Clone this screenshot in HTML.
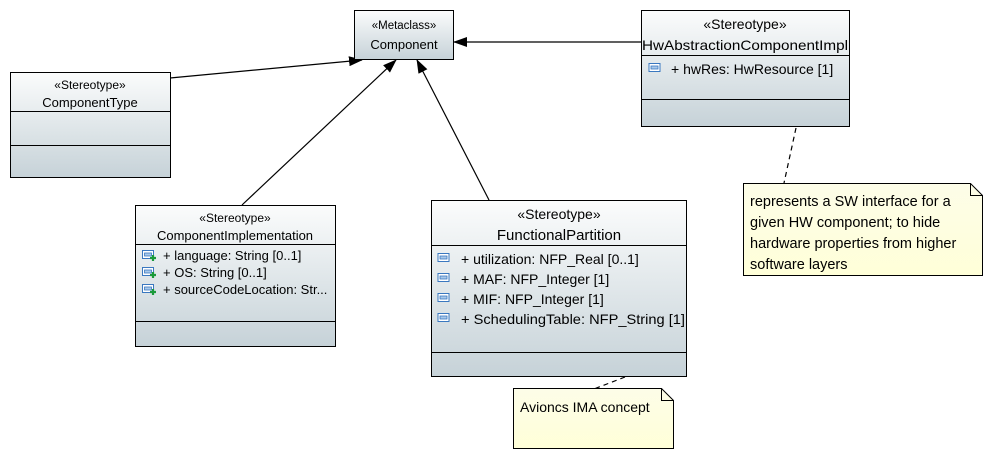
<!DOCTYPE html>
<html><head><meta charset="utf-8"><style>
html,body{margin:0;padding:0;background:#fff;}
svg{display:block;font-family:"Liberation Sans","DejaVu Sans",sans-serif;}
</style></head><body>
<svg width="993" height="458" viewBox="0 0 993 458" xmlns="http://www.w3.org/2000/svg">
<defs>
<linearGradient id="g" x1="0" y1="0" x2="0" y2="1"><stop offset="0" stop-color="#fbfcfc"/><stop offset="1" stop-color="#c6d2d8"/></linearGradient>
<linearGradient id="n" x1="0" y1="0" x2="0" y2="1"><stop offset="0" stop-color="#fdfde8"/><stop offset="1" stop-color="#ffffd8"/></linearGradient>
<marker id="a" markerWidth="14" markerHeight="10" refX="13" refY="5" orient="auto" markerUnits="userSpaceOnUse"><path d="M0,0 L14,5 L0,10 z" fill="#000"/></marker>
<symbol id="ic" viewBox="0 0 12 10"><rect x="0.5" y="0.5" width="11" height="8" fill="#fff" stroke="#3a78c0"/><rect x="2.5" y="3" width="7" height="3" fill="#a8c8ea" stroke="#3a78c0" stroke-width="0.8"/></symbol>
<symbol id="icp" viewBox="0 0 14 12"><rect x="0.5" y="0.5" width="11" height="8" fill="#fff" stroke="#3a78c0"/><rect x="2.5" y="3" width="7" height="3" fill="#a8c8ea" stroke="#3a78c0" stroke-width="0.8"/><path d="M8,8 h6 M11,5 v6" stroke="#1a9a3a" stroke-width="2.2"/></symbol>
</defs>
<g stroke="#000" stroke-width="1.2" fill="none">
<line x1="170" y1="78" x2="362" y2="60" marker-end="url(#a)"/>
<line x1="242" y1="205" x2="396" y2="60" marker-end="url(#a)"/>
<line x1="489" y1="200" x2="417" y2="60" marker-end="url(#a)"/>
<line x1="641" y1="42" x2="454" y2="42" marker-end="url(#a)"/>
<line x1="796" y1="128" x2="784" y2="183" stroke-dasharray="5,4"/>
<line x1="625" y1="377" x2="594" y2="389" stroke-dasharray="5,4"/>
</g>
<rect x="354.5" y="10.5" width="99" height="49" fill="url(#g)" stroke="#000"/>
<text x="404" y="29" font-size="11.5" text-anchor="middle">«Metaclass»</text>
<text x="404" y="49" font-size="13" text-anchor="middle">Component</text>
<rect x="641.5" y="10.5" width="208" height="116" fill="url(#g)" stroke="#000"/>
<line x1="641" y1="55.5" x2="850" y2="55.5" stroke="#000"/>
<line x1="641" y1="99.5" x2="850" y2="99.5" stroke="#000"/>
<text x="745" y="29" font-size="14" text-anchor="middle">«Stereotype»</text>
<text x="745" y="50" font-size="14" text-anchor="middle" textLength="206" lengthAdjust="spacingAndGlyphs">HwAbstractionComponentImpl</text>
<use href="#ic" x="648" y="63" width="13" height="10"/>
<text x="671" y="74" font-size="14">+ hwRes: HwResource [1]</text>
<rect x="10.5" y="72.5" width="160" height="105" fill="url(#g)" stroke="#000"/>
<line x1="10" y1="111.5" x2="171" y2="111.5" stroke="#000"/>
<line x1="10" y1="145.5" x2="171" y2="145.5" stroke="#000"/>
<text x="90" y="89" font-size="12" text-anchor="middle">«Stereotype»</text>
<text x="90" y="107" font-size="13" text-anchor="middle">ComponentType</text>
<rect x="135.5" y="205.5" width="200" height="141" fill="url(#g)" stroke="#000"/>
<line x1="135" y1="244.5" x2="336" y2="244.5" stroke="#000"/>
<line x1="135" y1="321.5" x2="336" y2="321.5" stroke="#000"/>
<text x="235" y="222" font-size="12" text-anchor="middle">«Stereotype»</text>
<text x="235" y="240" font-size="13" text-anchor="middle">ComponentImplementation</text>
<use href="#icp" x="142" y="250" width="14" height="12"/>
<use href="#icp" x="142" y="267" width="14" height="12"/>
<use href="#icp" x="142" y="284" width="14" height="12"/>
<text x="163" y="260" font-size="13">+ language: String [0..1]</text>
<text x="163" y="277" font-size="13">+ OS: String [0..1]</text>
<text x="163" y="294" font-size="13">+ sourceCodeLocation: Str...</text>
<rect x="431.5" y="200.5" width="255" height="176" fill="url(#g)" stroke="#000"/>
<line x1="431" y1="245.5" x2="687" y2="245.5" stroke="#000"/>
<line x1="431" y1="352.5" x2="687" y2="352.5" stroke="#000"/>
<text x="559" y="219" font-size="14" text-anchor="middle">«Stereotype»</text>
<text x="559" y="240" font-size="15" text-anchor="middle">FunctionalPartition</text>
<use href="#ic" x="437" y="253" width="13" height="10"/>
<use href="#ic" x="437" y="273" width="13" height="10"/>
<use href="#ic" x="437" y="293" width="13" height="10"/>
<use href="#ic" x="437" y="313" width="13" height="10"/>
<text x="461" y="264" font-size="14">+ utilization: NFP_Real [0..1]</text>
<text x="461" y="284" font-size="14">+ MAF: NFP_Integer [1]</text>
<text x="461" y="304" font-size="14">+ MIF: NFP_Integer [1]</text>
<text x="461" y="324" font-size="14" textLength="224" lengthAdjust="spacingAndGlyphs">+ SchedulingTable: NFP_String [1]</text>
<path d="M743.5,183.5 H970.5 L982.5,195.5 V275.5 H743.5 Z" fill="url(#n)" stroke="#000"/>
<path d="M970.5,183.5 V195.5 H982.5" fill="none" stroke="#000"/>
<text font-size="14.5"><tspan x="750" y="206">represents a SW interface for a</tspan><tspan x="750" y="227">given HW component; to hide</tspan><tspan x="750" y="248">hardware properties from higher</tspan><tspan x="750" y="269">software layers</tspan></text>
<path d="M513.5,388.5 H661.5 L673.5,400.5 V448.5 H513.5 Z" fill="url(#n)" stroke="#000"/>
<path d="M661.5,388.5 V400.5 H673.5" fill="none" stroke="#000"/>
<text x="520" y="412" font-size="14">Avioncs IMA concept</text>
</svg>
</body></html>
